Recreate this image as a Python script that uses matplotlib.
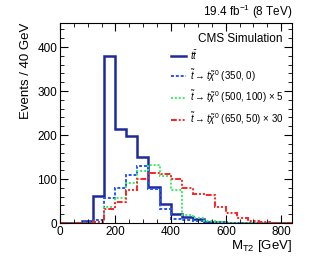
import numpy as np
import matplotlib
matplotlib.use("Agg")
import matplotlib.pyplot as plt
from matplotlib.ticker import MultipleLocator

plt.rcParams['font.family'] = ['Liberation Sans', 'DejaVu Sans']
plt.rcParams['mathtext.fontset'] = 'custom'
plt.rcParams['mathtext.rm'] = 'Liberation Sans'
plt.rcParams['mathtext.it'] = 'Liberation Sans:italic'

# bins of 40 GeV, 0..840
edges = np.arange(0, 841, 40)
ttbar = [0, 1, 5, 62, 380, 213, 197, 149, 81, 44, 21, 14, 9, 3, 1.5, 1, 0.5, 0.3, 0.2, 0.1, 0]
stop_350_0 = [0, 0.5, 2, 6, 58, 79, 110, 129, 78, 32, 9, 7, 4, 2, 1, 0.5, 0.3, 0.2, 0.1, 0, 0]
stop_500_100 = [0, 0, 0.5, 3, 36, 58, 90, 118, 132, 106, 75, 18, 11, 5, 2, 1, 0.5, 0.3, 0.2, 0.1, 0]
stop_650_50 = [0, 0, 0.5, 2, 31, 47, 74, 101, 114, 112, 101, 80, 66, 64, 37, 22, 11, 5, 2, 1, 0.5]

labels = [r'$t\bar{t}$',
          r'$\tilde{t}\rightarrow t\tilde{\chi}^0$ (350, 0)',
          r'$\tilde{t}\rightarrow t\tilde{\chi}^0$ (500, 100) $\times$ 5',
          r'$\tilde{t}\rightarrow t\tilde{\chi}^0$ (650, 50) $\times$ 30']

fig = plt.figure(figsize=(3.32, 2.63), dpi=100)
ax = fig.add_axes([0.181, 0.152, 0.699, 0.761])

ax.stairs(ttbar, edges, color='#1c2a9c', lw=1.8, label=labels[0])
ax.stairs(stop_350_0, edges, color='#2255ff', lw=1.4, ls=(0, (1.5, 1)), label=labels[1])
ax.stairs(stop_500_100, edges, color='#33ee66', lw=1.4, ls=(0, (1, 1)), label=labels[2])
ax.stairs(stop_650_50, edges, color='#ff2222', lw=1.4, ls=(0, (3, 1, 1, 1, 1, 1)), label=labels[3])

ax.set_xlim(0, 840)
ax.set_ylim(0, 455)
ax.xaxis.set_major_locator(MultipleLocator(200))
ax.xaxis.set_minor_locator(MultipleLocator(50))
ax.yaxis.set_major_locator(MultipleLocator(100))
ax.yaxis.set_minor_locator(MultipleLocator(20))
ax.tick_params(which='both', direction='in', top=True, right=True, labelsize=8.5, pad=2)
ax.tick_params(which='major', length=6)
ax.tick_params(which='minor', length=3)

ax.set_xlabel(r'M$_{\rm T2}$ [GeV]', fontsize=9.5, loc='right', labelpad=0)
ax.set_ylabel('Events / 40 GeV', fontsize=9.5, loc='top', labelpad=4)

ax.text(0.96, 0.92, 'CMS Simulation', transform=ax.transAxes, ha='right', va='center', fontsize=8.5)
fig.text(0.88, 0.955, r'19.4 fb$^{-1}$ (8 TeV)', ha='right', va='center', fontsize=8.5)

ax.legend(loc='upper left', bbox_to_anchor=(0.46, 0.895), frameon=False, fontsize=7,
          handlelength=1.6, handletextpad=0.35, labelspacing=0.5, borderaxespad=0)

fig.savefig('out.png', dpi=100)
